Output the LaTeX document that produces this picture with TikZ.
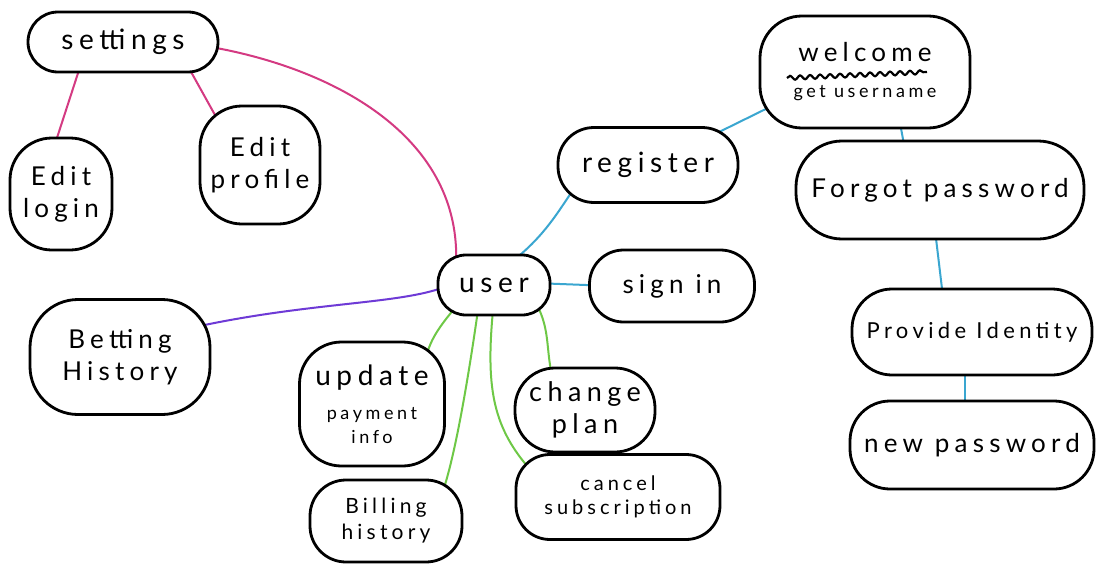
\documentclass[tikz,border=0pt]{standalone}
\usepackage{fontspec}
\setmainfont{Lato}[LetterSpace=20]
\usetikzlibrary{decorations.pathmorphing,calc}
\definecolor{pinkline}{RGB}{212,58,130}
\definecolor{blueline}{RGB}{58,166,208}
\definecolor{purpleline}{RGB}{110,58,214}
\definecolor{greenline}{RGB}{110,200,70}
\pgfdeclarelayer{bg}
\pgfsetlayers{bg,main}
\tikzset{
  blob/.style={draw=black, fill=white, line width=2.8pt, rounded corners=30pt, align=center, inner sep=2pt, font=\fontsize{26}{32}\selectfont},
  link/.style={line width=2pt},
  pinklink/.style={link, draw=pinkline},
  bluelink/.style={link, draw=blueline},
  purplelink/.style={link, draw=purpleline},
  greenlink/.style={link, draw=greenline},
}
\begin{document}
\begin{tikzpicture}[x=1pt,y=-1pt]
\useasboundingbox (0,0) rectangle (1096,565);
% nodes
\node[blob, minimum width=190pt, minimum height=60pt, font=\fontsize{28}{32}\selectfont] (settings) at (123,42) {settings};
\node[blob, minimum width=102pt, minimum height=112pt, rounded corners=42pt] (editlogin) at (61,194) {Edit\\login};
\node[blob, minimum width=120pt, minimum height=118pt, rounded corners=42pt] (editprofile) at (260,165) {Edit\\profile};
\node[blob, minimum width=180pt, minimum height=115pt, rounded corners=48pt] (betting) at (120,357) {Betting\\History};
\node[blob, minimum width=112pt, minimum height=60pt, rounded corners=28pt, font=\fontsize{28}{32}\selectfont] (user) at (494,285) {user};
\node[blob, minimum width=180pt, minimum height=75pt, rounded corners=36pt, font=\fontsize{28}{32}\selectfont] (register) at (648,165) {register};
\node[blob, minimum width=165pt, minimum height=72pt, rounded corners=34pt] (signin) at (672,286) {sign in};
\node[blob, minimum width=210pt, minimum height=112pt, rounded corners=42pt] (welcome) at (865,72) {welcome\\[4pt]{\fontsize{18}{20}\selectfont get username}};
\node[blob, minimum width=288pt, minimum height=98pt, rounded corners=46pt] (forgot) at (940,190) {Forgot password};
\node[blob, minimum width=240pt, minimum height=86pt, rounded corners=40pt, font=\fontsize{22}{28}\selectfont] (provide) at (972,332) {Provide Identity};
\node[blob, minimum width=244pt, minimum height=88pt, rounded corners=40pt] (newpw) at (972,445) {new password};
\node[blob, minimum width=145pt, minimum height=124pt, rounded corners=42pt, font=\fontsize{28}{32}\selectfont] (update) at (372,404) {update\\[2pt]{\fontsize{18}{20}\selectfont payment}\\[-8pt]{\fontsize{18}{20}\selectfont info}};
\node[blob, minimum width=140pt, minimum height=84pt, rounded corners=40pt, font=\fontsize{27}{32}\selectfont] (change) at (585,410) {change\\plan};
\node[blob, minimum width=152pt, minimum height=82pt, rounded corners=36pt, font=\fontsize{21}{26}\selectfont] (billing) at (386,521) {Billing\\history};
\node[blob, minimum width=204pt, minimum height=85pt, rounded corners=34pt, font=\fontsize{20}{24}\selectfont] (cancel) at (618,497) {cancel\\subscription};
% wavy underline under welcome
\draw[line width=2.2pt, decorate, decoration={snake, amplitude=2pt, segment length=10pt}] ($(welcome)+(-78,6)$) -- ($(welcome)+(62,0)$);
% connectors
\begin{pgfonlayer}{bg}
\fill[white] (0,0) rectangle (1096,565);
\draw[pinklink] ($(settings)+(88,5)$) .. controls (340,70) and (462,140) .. ($(user)+(-38,-20)$);
\draw[pinklink] ($(settings)+(-43,25)$) -- ($(editlogin)+(-6,-50)$);
\draw[pinklink] ($(settings)+(67,28)$) -- ($(editprofile)+(-45,-50)$);
\draw[purplelink] ($(betting)+(75,-30)$) .. controls (320,300) and (410,305) .. ($(user)+(-40,-2)$);
\draw[bluelink] ($(user)+(20,-25)$) .. controls (545,235) and (558,212) .. ($(register)+(-75,25)$);
\draw[bluelink] ($(user)+(40,-2)$) -- ($(signin)+(-60,0)$);
\draw[bluelink] ($(register)+(65,-30)$) -- ($(welcome)+(-85,30)$);
\draw[bluelink] ($(welcome)+(33,40)$) -- ($(forgot)+(-35,-40)$);
\draw[bluelink] ($(forgot)+(-5,40)$) -- ($(provide)+(-29,-35)$);
\draw[bluelink] ($(provide)+(-7,35)$) -- ($(newpw)+(-7,-35)$);
\draw[greenlink] ($(user)+(-35,18)$) .. controls (445,320) and (432,335) .. ($(update)+(55,-50)$);
\draw[greenlink] ($(user)+(-16,25)$) .. controls (468,380) and (456,450) .. ($(billing)+(58,-33)$);
\draw[greenlink] ($(user)+(-1,25)$) .. controls (486,385) and (492,425) .. ($(cancel)+(-90,-30)$);
\draw[greenlink] ($(user)+(43,20)$) .. controls (550,330) and (546,350) .. ($(change)+(-33,-35)$);
\end{pgfonlayer}
\end{tikzpicture}
\end{document}
